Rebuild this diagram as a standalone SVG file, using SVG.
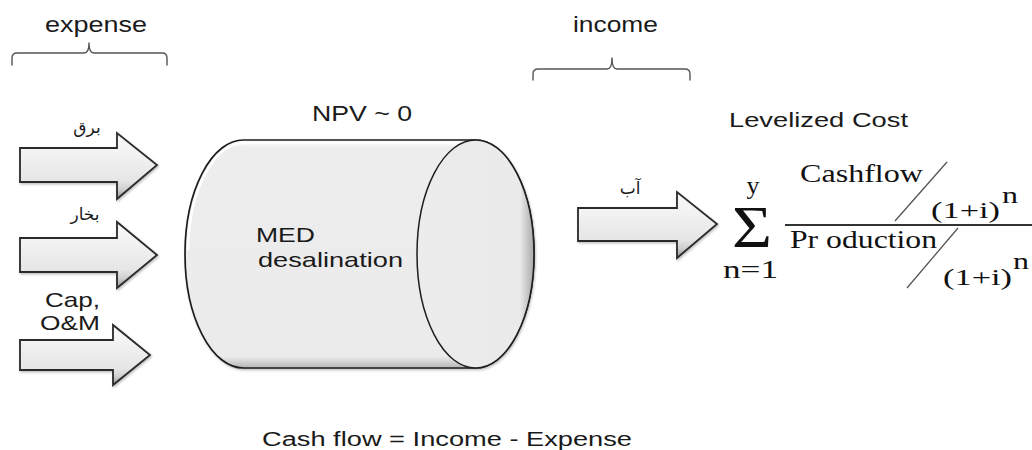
<svg xmlns="http://www.w3.org/2000/svg" width="1032" height="450" viewBox="0 0 1032 450">
  <style>
    .sans { font-family: "Liberation Sans", Arial, sans-serif; fill: #1a1a1a; }
    .serif { font-family: "Liberation Serif", "Times New Roman", serif; fill: #111; }
    .ar { font-family: "DejaVu Sans", sans-serif; font-size: 17px; fill: #1a1a1a; }
    .brace { fill: none; stroke: #555; stroke-width: 1.4; stroke-linecap: round; stroke-linejoin: round; }
    .blockarrow { fill: url(#arrowFill); stroke: #2a2a2a; stroke-width: 1.8; stroke-linejoin: miter; filter: url(#soft); }
    .rule { stroke: #333; stroke-width: 2; }
    .slash { stroke: #555; stroke-width: 1.3; }
  </style>
  <defs>
    <linearGradient id="arrowFill" x1="0" y1="0" x2="0" y2="1">
      <stop offset="0" stop-color="#fafafa"/>
      <stop offset="0.3" stop-color="#f2f2f2"/>
      <stop offset="0.72" stop-color="#e6e6e6"/>
      <stop offset="0.85" stop-color="#d0d0d0"/>
      <stop offset="1" stop-color="#959595"/>
    </linearGradient>
    <linearGradient id="canFill" x1="0" y1="0" x2="0" y2="1">
      <stop offset="0" stop-color="#ffffff"/>
      <stop offset="0.035" stop-color="#ededed"/>
      <stop offset="0.95" stop-color="#ebebeb"/>
      <stop offset="1" stop-color="#b5b5b5"/>
    </linearGradient>
    <linearGradient id="endFill" x1="0" y1="0" x2="1" y2="0">
      <stop offset="0" stop-color="#ececec"/>
      <stop offset="0.88" stop-color="#eaeaea"/>
      <stop offset="1" stop-color="#a8a8a8"/>
    </linearGradient>
    <filter id="soft" x="-10%" y="-10%" width="125%" height="125%">
      <feDropShadow dx="1" dy="1.5" stdDeviation="1" flood-color="#000" flood-opacity="0.25"/>
    </filter>
  </defs>

  <!-- Headers with braces -->
  <g id="expense-group">
    <text class="sans" x="45" y="32" font-size="22" textLength="102" lengthAdjust="spacingAndGlyphs">expense</text>
    <path class="brace" d="M12,65 V58 Q12,53 17,53 H84 Q89,53 89,43 Q89,53 94,53 H162 Q167,53 167,58 V65"/>
  </g>
  <g id="income-group">
    <text class="sans" x="573" y="32" font-size="22" textLength="85" lengthAdjust="spacingAndGlyphs">income</text>
    <path class="brace" d="M533,80 V74 Q533,69 538,69 H607 Q612,69 612,58 Q612,69 617,69 H685 Q690,69 690,74 V80"/>
  </g>

  <!-- Block arrows -->
  <g id="connectors">
    <polygon class="blockarrow" points="20,148 117,148 117,133 157,165 117,199 117,182 20,182"/>
    <polygon class="blockarrow" points="20,238 117,238 117,222 157,255 117,288 117,272 20,272"/>
    <polygon class="blockarrow" points="20,340 113,340 113,325 150,355 113,385 113,370 20,370"/>
    <polygon class="blockarrow" points="578,208 677,208 677,192 717,224 677,258 677,241 578,241"/>
  </g>

  <g id="label-electricity">
    <text class="ar" x="87" y="133" text-anchor="middle">برق</text>
  </g>
  <g id="label-steam">
    <text class="ar" x="85" y="220" text-anchor="middle">بخار</text>
  </g>
  <g id="label-capom">
    <text class="sans" x="45" y="307" font-size="21" textLength="55" lengthAdjust="spacingAndGlyphs">Cap,</text>
    <text class="sans" x="40" y="330" font-size="21" textLength="60" lengthAdjust="spacingAndGlyphs">O&amp;M</text>
  </g>
  <g id="label-water">
    <text class="ar" x="630" y="194" text-anchor="middle">آب</text>
  </g>

  <!-- Cylinder -->
  <g id="med-cylinder">
    <text class="sans" x="312" y="121" font-size="22" textLength="100" lengthAdjust="spacingAndGlyphs">NPV ~ 0</text>
    <path d="M243.5,140 H475.5 A58.5,114 0 0 1 475.5,368 H243.5 A58.5,114 0 0 1 243.5,140 Z" fill="url(#canFill)" stroke="#1e1e1e" stroke-width="1.7" filter="url(#soft)"/>
    <path d="M188,250 A55.5,111 0 0 1 243.5,143 H470" fill="none" stroke="#ffffff" stroke-width="2.5" opacity="0.9"/>
    <ellipse cx="475.5" cy="254" rx="58.5" ry="114" fill="url(#endFill)" stroke="#1e1e1e" stroke-width="1.5"/>
    <text class="sans" x="256" y="242" font-size="21" textLength="59" lengthAdjust="spacingAndGlyphs">MED</text>
    <text class="sans" x="258" y="267" font-size="21" textLength="145" lengthAdjust="spacingAndGlyphs">desalination</text>
  </g>

  <!-- Levelized cost formula -->
  <g id="levelized-cost">
    <text class="sans" x="729" y="127" font-size="20" textLength="179" lengthAdjust="spacingAndGlyphs">Levelized Cost</text>
    <text class="serif" x="732" y="247" font-size="60" textLength="40" lengthAdjust="spacingAndGlyphs">Σ</text>
    <text class="serif" x="753" y="194" font-size="26" text-anchor="middle">y</text>
    <text class="serif" x="723" y="278" font-size="26" textLength="55" lengthAdjust="spacingAndGlyphs">n=1</text>
    <text class="serif" x="800" y="182" font-size="26" textLength="123" lengthAdjust="spacingAndGlyphs">Cashflow</text>
    <line class="slash" x1="895" y1="221" x2="947" y2="162"/>
    <text class="serif" x="931" y="218" font-size="24" textLength="69" lengthAdjust="spacingAndGlyphs">(1+i)</text>
    <text class="serif" x="1002" y="203" font-size="24" textLength="16" lengthAdjust="spacingAndGlyphs">n</text>
    <line class="rule" x1="785" y1="225" x2="1032" y2="225"/>
    <text class="serif" x="790" y="248" font-size="26" textLength="147" lengthAdjust="spacingAndGlyphs">Pr oduction</text>
    <line class="slash" x1="907" y1="288" x2="958" y2="228"/>
    <text class="serif" x="943" y="285" font-size="24" textLength="69" lengthAdjust="spacingAndGlyphs">(1+i)</text>
    <text class="serif" x="1013" y="269" font-size="24" textLength="16" lengthAdjust="spacingAndGlyphs">n</text>
  </g>

  <g id="cashflow-note">
    <text class="sans" x="262" y="446" font-size="20" textLength="370" lengthAdjust="spacingAndGlyphs">Cash flow = Income - Expense</text>
  </g>
</svg>
